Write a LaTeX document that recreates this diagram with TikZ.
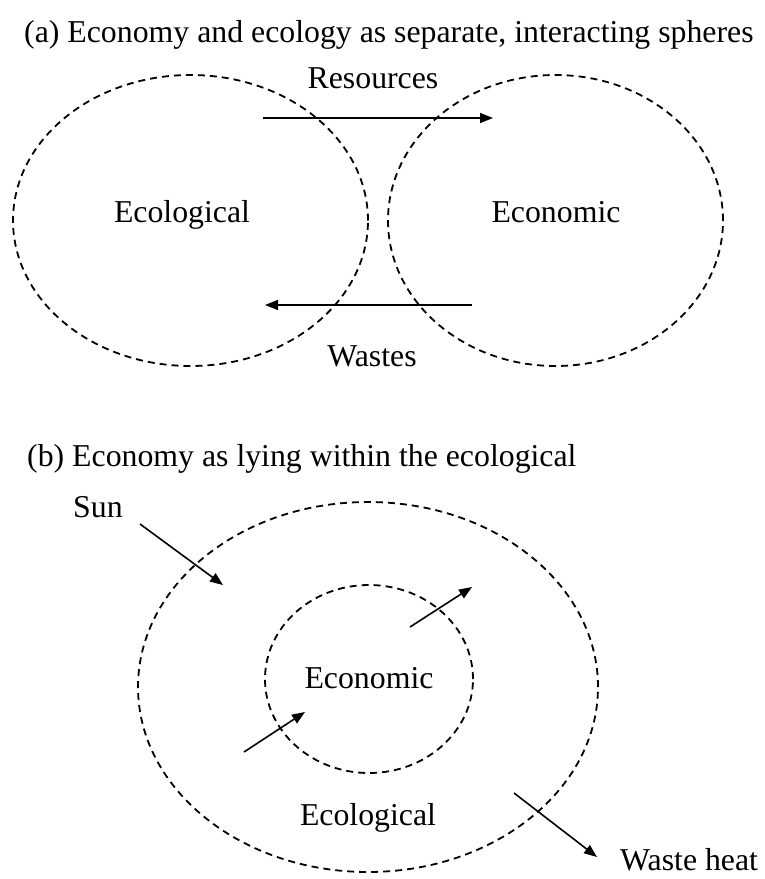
\documentclass[tikz,border=0pt]{standalone}
\usepackage{fontspec}
\setmainfont{Liberation Serif}
\usetikzlibrary{shapes.geometric,arrows.meta}
\begin{document}
\begin{tikzpicture}[x=1pt,y=-1pt,
  sphere/.style={draw, ellipse, dash pattern=on 7pt off 5pt, line width=1.8pt, inner sep=0pt},
  lbl/.style={inner sep=0pt, font=\fontsize{31.8}{38}\selectfont, anchor=base},
  flow/.style={line width=1.6pt, -{Triangle[length=13pt,width=10pt]}}]
\useasboundingbox (0,0) rectangle (764,879);

% (a)
\node[lbl, anchor=base west] (ta) at (24,42) {(a) Economy and ecology as separate, interacting spheres};
\node[sphere, minimum width=355pt, minimum height=291pt] (ecolA) at (190.5,220.5) {};
\node[sphere, minimum width=335pt, minimum height=291pt] (econA) at (555.5,220.5) {};
\node[lbl] (tEcolA) at (182,222) {Ecological};
\node[lbl] (tEconA) at (556,222) {Economic};
\node[lbl] (tRes) at (373,88) {Resources};
\node[lbl] (tWas) at (372,366) {Wastes};
\coordinate (r1) at (263,118);
\coordinate (r2) at (493,118);
\coordinate (w1) at (472,305);
\coordinate (w2) at (265,305);
\draw[flow] (r1) -- (r2);
\draw[flow] (w1) -- (w2);

% (b)
\node[lbl, anchor=base west] (tb) at (27,466) {(b) Economy as lying within the ecological};
\node[lbl, anchor=base west] (sun) at (73,517) {Sun};
\node[sphere, minimum width=460pt, minimum height=370pt] (ecolB) at (368,687) {};
\node[sphere, minimum width=208pt, minimum height=188pt] (econB) at (369,679) {};
\node[lbl] (tEconB) at (369,688) {Economic};
\node[lbl] (tEcolB) at (368,825) {Ecological};
\node[lbl, anchor=base west] (heat) at (620,870) {Waste heat};
\coordinate (s1) at (140,524);
\coordinate (s2) at (223,585);
\coordinate (i1) at (244,752);
\coordinate (i2) at (305,712);
\coordinate (o1) at (410,627);
\coordinate (o2) at (472,587);
\coordinate (h1) at (514,793);
\coordinate (h2) at (597,857);
\draw[flow] (s1) -- (s2);
\draw[flow] (i1) -- (i2);
\draw[flow] (o1) -- (o2);
\draw[flow] (h1) -- (h2);
\end{tikzpicture}
\end{document}
